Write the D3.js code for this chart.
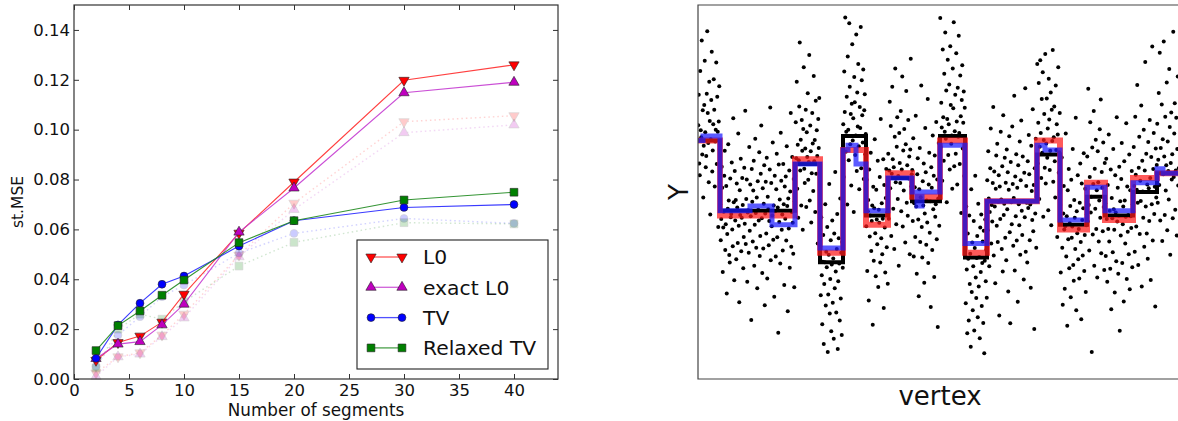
<!DOCTYPE html>
<html>
<head>
<meta charset="utf-8">
<script src="https://cdn.jsdelivr.net/npm/d3@7"></script>
<style>
  body { margin: 0; background: #fff; }
  svg { display: block; font-family: "DejaVu Sans", sans-serif; }
</style>
</head>
<body>
<svg id="mainsvg" width="1178" height="421"></svg>
<script>
// ---- left panel data: st.MSE vs number of segments
const segmentCounts = [2, 4, 6, 8, 10, 15, 20, 30, 40];
const l0 = [0.0075, 0.0146, 0.0172, 0.0228, 0.0340, 0.0585, 0.0790, 0.1198, 0.1260];
const exactL0 = [0.0082, 0.0140, 0.0150, 0.0217, 0.0300, 0.0589, 0.0766, 0.1148, 0.1190];
const tv = [0.0083, 0.0217, 0.0304, 0.0380, 0.0413, 0.0533, 0.0635, 0.0688, 0.0700];
const relaxedTv = [0.0114, 0.0214, 0.0273, 0.0336, 0.0397, 0.0547, 0.0635, 0.0718, 0.0749];
// faint dotted companions
const l0Faded = [0.0024, 0.0089, 0.0105, 0.0176, 0.0260, 0.0497, 0.0705, 0.1032, 0.1056];
const exactL0Faded = [0.0010, 0.0089, 0.0100, 0.0170, 0.0245, 0.0490, 0.0680, 0.0988, 0.1019];
const tvFaded = [0.0050, 0.0176, 0.0250, 0.0330, 0.0377, 0.0505, 0.0584, 0.0644, 0.0624];
const relaxedTvFaded = [0.0044, 0.0200, 0.0260, 0.0240, 0.0310, 0.0453, 0.0548, 0.0627, 0.0622];
const xTicks = [0, 5, 10, 15, 20, 25, 30, 35, 40];
const yTicks = [0, 0.02, 0.04, 0.06, 0.08, 0.10, 0.12, 0.14];
const legendLabels = ['L0', 'exact L0', 'TV', 'Relaxed TV'];

// ---- right panel data: noisy signal on vertices and piecewise constant fits
const segmentBreaks = [0, 44, 194, 244, 290, 336, 380, 428, 484, 534, 578, 678, 724, 778, 814, 870, 918, 1000];
const truthValues = [11, -4, 6, -15, 12, -5, 3, -2, 12, -14, -2, 8, -7, -1, -5, 0, 4];
const l0Fit = [11, -5, 7, -13, 9, -7, 4, -1, 11, -13, -2, 11, -8, 2, -6, 3, 4];
const tvBreaks = [0, 10, 44, 104, 148, 194, 244, 290, 300, 316, 336, 380, 428, 438, 448, 484, 534, 578, 678, 694, 724, 778, 814, 870, 918, 930, 1000];
const tvFit = [11, 12, -4, -3, -7, 6, -12, 9, 10, 6, -4, 3, 0, -3, 0, 10, -11, -2, 10, 9, -6, 1, -4, 2, 5, 4];
const observations = [
  [14.3,20.8,6.1,3.6,25.9,13.2,11.7,32.4,8.0,17.5,-1.2,9.9,18.6,28.1,12.8,5.3,7.7,21.0,34.4,16.9,10.5,2.1,23.6,15.2,-4.8,11.3,19.7,30.0,4.4,8.9,14.5,24.1,17.6,1.2,10.8,13.3,27.7,6.0,20.4,12.9,-7.5,15.1,22.6,9.2],
  [-2.7,-10.3,-5.8,5.4,0.9,-17.1,-7.6,-4.2,3.5,8.8,-12.4,-6.9,1.3,-21.7,-9.0,-3.6,10.2,-1.8,-13.5,-15.1,2.9,-5.4,-4.7,6.3,-8.0,-11.6,15.8,-2.2,-18.9,4.5,
   -6.1,-1.7,-14.4,1.8,-3.3,-10.9,12.5,-7.2,-23.6,0.4,-4.9,7.1,-12.7,-5.5,3.0,-2.8,-16.3,-9.6,5.2,-6.8,17.4,-11.1,-1.5,2.7,-19.2,-4.4,-3.9,-13.0,9.6,-8.3,
   1.6,-5.2,-27.4,4.9,-2.1,-10.6,0.3,6.7,-15.8,-7.0,11.4,-4.5,-11.9,-1.2,-20.6,2.3,-3.8,-6.1,8.5,-13.7,-9.4,3.9,14.2,-5.6,-17.3,0.8,-12.1,-2.5,5.7,-24.2,
   -4.6,2.2,-8.9,7.3,-18.5,-1.0,-3.7,-11.4,-6.2,4.8,18.1,-14.6,1.9,-7.3,-5.0,10.6,-10.2,-2.9,-22.4,3.5,-4.1,-13.8,0.6,8.2,-9.7,-3.3,-30.1,5.9,-6.4,-1.6,
   -15.3,12.7,2.4,-8.1,-4.8,-12.5,6.0,-2.6,-19.9,1.2,-5.7,3.3,-10.4,9.8,-3.0,-25.5,-1.4,-7.8,4.6,-16.2,0.1,16.9,-11.7,-4.3,7.5,-6.6,-13.2,2.8,-20.4,-2.0],
  [3.4,14.9,7.2,23.6,0.7,10.1,-5.5,6.8,18.3,32.0,4.6,11.2,-2.9,15.4,8.8,-8.1,13.5,26.7,5.0,1.9,9.3,17.6,-3.2,12.8,7.5,21.1,2.6,6.4,29.3,-1.8,14.2,8.7,-6.5,4.0,16.9,10.4,0.2,24.8,6.6,11.1,-4.3,19.5,3.9,13.2,7.7,-11.0,15.6,9.4,20.1,5.8],
  [-11.6,-22.1,-5.4,-17.8,-28.3,-14.9,-9.2,-32.5,-19.7,-15.0,-2.6,-24.3,-12.8,-16.1,-7.5,-34.2,-21.9,-13.4,1.7,-26.0,-18.6,-10.3,-29.8,-15.5,-6.1,-23.7,-14.2,-31.4,-8.9,-20.6,4.3,-17.0,-25.8,-12.2,-4.7,-33.6,-19.1,-9.9,-15.3,-27.5,-1.4,-22.8,-13.0,-30.6,-10.7,-16.2],
  [14.5,3.2,25.8,17.1,37.3,8.6,12.9,20.4,-2.7,29.0,13.3,6.8,36.1,22.5,10.2,16.7,1.4,18.9,31.6,11.0,15.8,-4.3,24.6,19.2,7.9,12.1,33.7,4.5,21.3,14.0,27.4,9.8,0.6,18.2,13.7,35.3,5.1,23.9,16.4,10.6,26.2,2.8,17.5,20.9,8.1,12.4],
  [-7.3,2.6,-16.9,-4.1,-1.7,-23.2,4.8,-9.5,-5.0,8.4,-12.6,-6.2,-2.9,-28.4,1.1,-14.7,-3.5,11.3,-8.8,-18.0,0.5,-5.9,-11.2,6.7,-20.3,-3.8,-6.6,3.2,-15.1,15.6,-9.9,-2.4,-13.3,-5.7,7.0,-24.8,1.5,-7.6,-17.2,-1.3,4.9,-11.8,-4.4,-19.6],
  [8.2,-5.7,4.6,19.3,0.8,14.1,-9.4,3.9,22.5,7.0,-3.6,5.3,-12.2,11.8,26.4,2.1,-6.9,9.7,16.0,-1.5,3.4,-15.8,12.6,6.2,1.9,17.3,-4.1,4.8,24.7,-7.4,8.9,0.3,13.5,3.0,-10.8,10.2,21.6,-2.3,5.7,-5.1,15.4,2.9,7.6,-13.3,9.1,28.5,1.2,3.8],
  [4.7,-6.2,11.5,-13.8,-2.4,1.0,-9.6,16.3,-3.1,-17.5,3.8,7.2,-5.9,-22.3,0.6,9.4,-10.7,-1.1,22.8,-7.5,-14.0,2.3,-2.9,6.1,-19.4,-4.6,13.7,4.2,-11.3,-1.8,-6.5,19.9,-15.2,1.6,8.4,-8.7,-2.0,-24.6,5.3,0.9,-12.4,12.1,-3.7,3.5,-18.2,7.8,-5.3,-2.6,15.0,-10.1,2.7,-28.9,-1.4,10.5,-7.2,0.3],
  [37.2,9.6,19.1,13.8,2.4,30.5,16.0,6.7,25.3,12.9,34.1,11.4,21.7,-2.2,15.6,28.3,7.9,14.5,23.0,4.8,31.2,18.6,10.3,12.1,0.7,26.4,17.9,36.3,5.5,13.0,20.8,8.2,29.7,15.1,1.6,22.3,11.8,33.4,12.6,6.0,24.9,16.2,-4.5,19.7,27.1,9.3,14.8,21.5,3.4,18.0],
  [-11.4,-23.8,-3.1,-16.6,-30.2,-8.9,-14.3,-27.5,-5.0,-19.7,-13.2,-33.1,0.6,-21.4,-10.8,-25.3,-15.9,-6.2,-29.6,-12.0,3.5,-18.3,-22.7,-14.1,-9.4,-26.8,-2.5,-20.2,-13.9,-31.3,-7.6,-17.1,-4.8,-24.4,-15.2,-10.6,-28.0,-8.3,-34.5,-14.7,-5.9,-19.1,-12.4,-22.6],
  [2.5,-8.2,8.7,-1.4,-15.9,-4.3,5.1,13.6,-11.0,-2.8,-6.3,1.9,18.2,-13.6,4.4,-3.1,-19.5,0.7,7.8,-7.2,
   10.3,-10.7,-2.1,3.6,-26.4,1.2,-5.8,12.9,-1.6,-12.2,5.5,-17.0,16.4,-4.9,-2.5,7.3,-9.8,2.0,-14.6,9.1,
   -3.7,4.2,-21.3,0.5,11.9,-8.6,-28.1,6.4,-2.2,-6.9,14.0,1.7,-11.5,-1.3,20.6,-16.8,3.3,-5.2,8.1,-10.4,
   0.9,-23.5,5.7,-2.6,-7.1,10.8,-13.4,2.5,15.3,-4.0,-9.2,7.6,-1.9,-18.7,4.1,-5.4,22.2,-12.8,1.3,-2.3,
   -15.1,6.6,-3.4,12.2,3.8,-10.3,-2.7,-20.5,9.9,0.2,-6.0,17.7,-8.4,1.5,-29.3,5.1,-4.6,11.4,-11.9,-1.0],
  [27.4,6.1,14.8,23.3,-1.5,9.7,28.2,12.6,3.0,19.9,8.4,25.6,-5.3,11.1,16.7,5.2,29.5,1.8,10.4,20.0,7.3,13.6,-3.9,24.2,15.5,4.7,8.8,21.3,-7.1,17.6,10.9,30.4,2.2,11.7,18.3,6.6,-1.2,22.8,9.0,14.5,-9.6,12.3,26.7,4.1,8.5,16.9],
  [-2.8,-17.2,-6.5,7.4,-11.9,-24.1,-4.6,1.3,-8.0,-20.7,-7.3,12.5,-13.8,-5.2,-28.6,0.4,-10.1,4.9,-16.3,-6.7,-3.0,-22.5,2.6,-9.8,-7.4,9.2,-15.6,-19.0,-1.7,-5.5,-12.2,15.9,-25.3,-4.1,-8.8,3.6,-14.4,-7.9,-18.5,-2.3,6.1,-10.7,-27.2,1.8,-6.0,-13.6,-3.5,8.3,-16.9,-9.2,0.7,-21.4,-7.1,-4.8],
  [7.6,-6.3,22.1,-2.8,-12.5,3.2,14.9,-4.4,-1.0,-34.2,9.5,-9.1,1.7,17.3,-15.8,5.0,-3.6,11.2,-7.9,0.4,-18.3,8.7,2.1,-10.6,-1.8,13.4,-5.5,19.8,-13.1,4.3,0.9,-8.4,10.6,-3.2,-16.7,6.2],
  [-2.4,-13.7,7.1,-5.8,-19.2,1.5,-7.9,12.3,-10.6,-4.0,-16.4,4.8,-25.1,-1.3,-5.6,-12.9,9.2,-3.7,-8.1,-21.5,3.6,-4.4,-14.8,16.0,-6.3,0.9,-17.5,-5.1,5.4,-29.7,-2.0,-9.3,2.8,10.5,-15.2,-6.9,-3.1,-23.4,6.6,-1.8,-11.0,-5.3,14.7,-18.6,1.2,-8.5,-4.9,-13.3,8.0,-20.8,0.4,-5.2,-7.7,4.5,-16.1,-2.6],
  [-4.2,9.6,1.3,-12.8,16.1,3.7,-7.4,0.5,22.9,-2.3,-15.6,5.2,11.8,-9.0,2.4,-1.9,18.5,-20.2,6.7,0.1,-5.5,13.3,-11.7,4.6,27.8,-3.1,8.2,-8.9,1.6,-14.3,10.7,0.8,-6.2,15.4,3.0,-18.8,7.5,-2.6,31.1,-10.4,4.9,12.6,-4.7,1.1,-24.5,9.3,-1.2,5.8],
  [14.6,-2.3,6.9,21.2,1.5,29.8,-6.1,9.4,4.0,18.7,-10.5,11.3,3.8,32.2,7.6,-4.9,16.1,0.3,5.7,23.4,-8.2,10.8,4.5,-1.6,26.3,13.9,-13.4,6.2,17.0,2.7,8.1,-5.6,34.3,3.2,12.5,19.0,-3.8,4.6,15.9,-9.3,9.2,24.7,1.4,5.1]
];

const svg = d3.select('#mainsvg');

// ================= left panel =================
const left = { x0: 74, x1: 558, y0: 5, y1: 379 };
const x = d3.scaleLinear().domain([0, 44]).range([left.x0, left.x1]);
const y = d3.scaleLinear().domain([0, 0.15]).range([left.y1, left.y0]);
const gl = svg.append('g').attr('id', 'leftpanel');

const series = [
  { values: l0Faded, color: '#ff0000', shape: 'down', faded: true },
  { values: exactL0Faded, color: '#bf00bf', shape: 'up', faded: true },
  { values: tvFaded, color: '#0000ff', shape: 'circle', faded: true },
  { values: relaxedTvFaded, color: '#008000', shape: 'square', faded: true },
  { values: l0, color: '#ff0000', shape: 'down', faded: false },
  { values: exactL0, color: '#bf00bf', shape: 'up', faded: false },
  { values: tv, color: '#0000ff', shape: 'circle', faded: false },
  { values: relaxedTv, color: '#008000', shape: 'square', faded: false },
];
const lineColors = { '#ff0000': '#ff2a2a', '#bf00bf': '#c43bd0', '#0000ff': '#2525ff', '#008000': '#1f8a1f' };

const symbolOf = shape => {
  if (shape === 'circle') return d3.symbol().type(d3.symbolCircle).size(48)();
  if (shape === 'square') return d3.symbol().type(d3.symbolSquare).size(60)();
  return d3.symbol().type(d3.symbolTriangle).size(46)();
};
const markerTransform = (shape, px, py) =>
  shape === 'down' ? `translate(${px},${py}) rotate(180)` : `translate(${px},${py})`;

const line = d3.line().x((d, i) => x(segmentCounts[i])).y(d => y(d));

series.forEach(s => {
  const grp = gl.append('g').attr('opacity', s.faded ? 0.2 : 1);
  grp.append('path')
    .attr('d', line(s.values))
    .attr('fill', 'none')
    .attr('stroke', lineColors[s.color])
    .attr('stroke-width', s.faded ? 1.4 : 1.1)
    .attr('stroke-dasharray', s.faded ? '1.5,3' : null)
    .attr('opacity', s.faded ? 1 : 0.9);
  grp.selectAll('path.mk')
    .data(s.values)
    .join('path')
    .attr('class', 'mk')
    .attr('d', symbolOf(s.shape))
    .attr('transform', (d, i) => markerTransform(s.shape, x(segmentCounts[i]), y(d)))
    .attr('fill', s.color)
    .attr('stroke', '#222')
    .attr('stroke-width', 0.6);
});

// axes: inward ticks on all four sides
const fmt = d3.format('.2f');
gl.append('g')
  .attr('transform', `translate(0,${left.y1})`)
  .call(d3.axisBottom(x).tickValues(xTicks).tickSizeInner(-5).tickSizeOuter(0).tickPadding(5))
  .call(g => g.select('.domain').remove())
  .call(g => g.selectAll('text').attr('font-size', 16.5).attr('fill', '#111').attr('font-family', 'DejaVu Sans'));
gl.append('g')
  .attr('transform', `translate(0,${left.y0})`)
  .call(d3.axisTop(x).tickValues(xTicks).tickSizeInner(-5).tickSizeOuter(0).tickFormat(''))
  .call(g => g.select('.domain').remove());
gl.append('g')
  .attr('transform', `translate(${left.x0},0)`)
  .call(d3.axisLeft(y).tickValues(yTicks).tickFormat(fmt).tickSizeInner(-5).tickSizeOuter(0).tickPadding(4))
  .call(g => g.select('.domain').remove())
  .call(g => g.selectAll('text').attr('font-size', 16.5).attr('fill', '#111').attr('font-family', 'DejaVu Sans'));
gl.append('g')
  .attr('transform', `translate(${left.x1},0)`)
  .call(d3.axisRight(y).tickValues(yTicks).tickSizeInner(-5).tickSizeOuter(0).tickFormat(''))
  .call(g => g.select('.domain').remove());
gl.selectAll('.tick line').attr('stroke', '#333');

gl.append('rect')
  .attr('x', left.x0).attr('y', left.y0)
  .attr('width', left.x1 - left.x0).attr('height', left.y1 - left.y0)
  .attr('fill', 'none').attr('stroke', '#333').attr('stroke-width', 1.2);

gl.append('text')
  .attr('x', (left.x0 + left.x1) / 2).attr('y', 416)
  .attr('text-anchor', 'middle').attr('font-size', 16.8).attr('fill', '#111')
  .text('Number of segments');
gl.append('text')
  .attr('transform', `translate(23,${(left.y0 + left.y1) / 2 + 10}) rotate(-90)`)
  .attr('text-anchor', 'middle').attr('font-size', 15.5).attr('fill', '#111')
  .text('st.MSE');

// legend
const legend = gl.append('g');
legend.append('rect')
  .attr('x', 357).attr('y', 240).attr('width', 191).attr('height', 129)
  .attr('fill', '#fff').attr('stroke', '#222').attr('stroke-width', 1.1);
series.filter(s => !s.faded).forEach((s, i) => {
  const ly = 257 + i * 30.3;
  legend.append('line')
    .attr('x1', 371).attr('x2', 402).attr('y1', ly).attr('y2', ly)
    .attr('stroke', lineColors[s.color]).attr('stroke-width', 1.3).attr('opacity', 0.8);
  [371, 402].forEach(px => {
    legend.append('path')
      .attr('d', symbolOf(s.shape))
      .attr('transform', markerTransform(s.shape, px, ly))
      .attr('fill', s.color).attr('stroke', '#222').attr('stroke-width', 0.6);
  });
  legend.append('text')
    .attr('x', 423).attr('y', ly).attr('dy', '0.36em')
    .attr('font-size', 20.3).attr('fill', '#111')
    .text(legendLabels[i]);
});

// ================= right panel =================
const right = { x0: 698, x1: 1198, y0: 5, y1: 379 };
const xv = d3.scaleLinear().domain([0, 1000]).range([right.x0, right.x1]);
const yv = d3.scaleLinear().domain([-40, 40]).range([right.y1, right.y0]);
const gr = svg.append('g').attr('id', 'rightpanel');

svg.append('defs').append('clipPath').attr('id', 'clipR')
  .append('rect').attr('x', right.x0).attr('y', right.y0)
  .attr('width', right.x1 - right.x0).attr('height', right.y1 - right.y0);
const plot = gr.append('g').attr('clip-path', 'url(#clipR)');

const points = observations.flatMap((seg, k) =>
  seg.map((v, i) => ({ vertex: segmentBreaks[k] + i + 0.5, value: v })));
plot.selectAll('circle')
  .data(points)
  .join('circle')
  .attr('cx', d => xv(d.vertex))
  .attr('cy', d => yv(d.value))
  .attr('r', 2.0)
  .attr('fill', '#000');

const stepLine = d3.line().x(d => xv(d[0])).y(d => yv(d[1])).curve(d3.curveStepAfter);
const stepPoints = (breaks, vals) =>
  vals.map((v, i) => [breaks[i], v]).concat([[breaks[breaks.length - 1], vals[vals.length - 1]]]);

plot.append('path')
  .attr('d', stepLine(stepPoints(segmentBreaks, truthValues)))
  .attr('fill', 'none').attr('stroke', '#000').attr('stroke-width', 4);
plot.append('path')
  .attr('d', stepLine(stepPoints(segmentBreaks, l0Fit)))
  .attr('fill', 'none').attr('stroke', '#ff1a1a').attr('stroke-width', 6).attr('opacity', 0.72);
plot.append('path')
  .attr('d', stepLine(stepPoints(tvBreaks, tvFit)))
  .attr('fill', 'none').attr('stroke', '#1a1aff').attr('stroke-width', 5).attr('opacity', 0.72);

gr.append('path')
  .attr('d', `M${right.x1},${right.y0}H${right.x0}V${right.y1}H${right.x1}`)
  .attr('fill', 'none').attr('stroke', '#444').attr('stroke-width', 1.2);

gr.append('text')
  .attr('x', 940).attr('y', 405)
  .attr('text-anchor', 'middle').attr('font-size', 26).attr('fill', '#111')
  .text('vertex');
gr.append('text')
  .attr('transform', `translate(688,${(right.y0 + right.y1) / 2}) rotate(-90)`)
  .attr('text-anchor', 'middle').attr('font-size', 26).attr('fill', '#111')
  .text('Y');
</script>
</body>
</html>
